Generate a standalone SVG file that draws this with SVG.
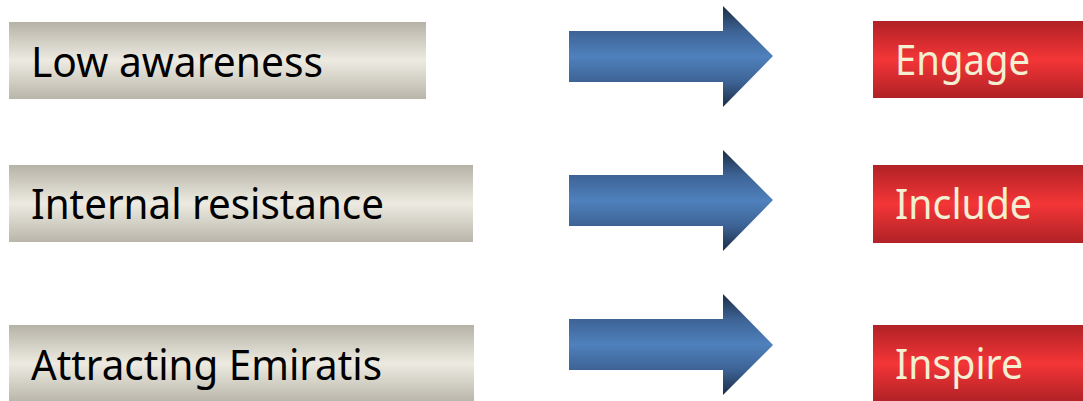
<svg xmlns="http://www.w3.org/2000/svg" width="1083" height="401" viewBox="0 0 1083 401">
  <defs>
    <linearGradient id="gGray" x1="0" y1="0" x2="0" y2="1">
      <stop offset="0" stop-color="#B6B2A8"/>
      <stop offset="0.5" stop-color="#EDEBE1"/>
      <stop offset="1" stop-color="#B9B5AB"/>
    </linearGradient>
    <linearGradient id="gRed" x1="0" y1="0" x2="0" y2="1">
      <stop offset="0" stop-color="#B02226"/>
      <stop offset="0.5" stop-color="#F43537"/>
      <stop offset="1" stop-color="#B02226"/>
    </linearGradient>
    <linearGradient id="gBlue" x1="0" y1="0" x2="0" y2="1">
      <stop offset="0" stop-color="#1C2D47"/>
      <stop offset="0.25" stop-color="#3D6395"/>
      <stop offset="0.5" stop-color="#4F81BD"/>
      <stop offset="0.75" stop-color="#3D6395"/>
      <stop offset="1" stop-color="#1C2D47"/>
    </linearGradient>
  </defs>
  <style>
    .gray { fill: url(#gGray); }
    .red { fill: url(#gRed); }
    .arrow { fill: url(#gBlue); }
    .lbl { font-family: "Noto Sans", "Open Sans", "Liberation Sans", sans-serif; font-size: 42px; fill: #000000; }
    .rlbl { font-family: "Noto Sans", "Open Sans", "Liberation Sans", sans-serif; font-size: 41px; fill: #F3EFD3; }
  </style>
  <rect width="1083" height="401" fill="#FFFFFF"/>

  <g id="node-low-awareness">
    <rect class="gray" x="9" y="22" width="417" height="77"/>
    <text class="lbl" x="31" y="77" textLength="292" lengthAdjust="spacingAndGlyphs">Low awareness</text>
  </g>
  <g id="node-internal-resistance">
    <rect class="gray" x="9" y="165" width="464" height="77"/>
    <text class="lbl" x="31" y="219" textLength="353" lengthAdjust="spacingAndGlyphs">Internal resistance</text>
  </g>
  <g id="node-attracting-emiratis">
    <rect class="gray" x="9" y="325" width="465" height="77"/>
    <text class="lbl" x="31" y="380" textLength="351" lengthAdjust="spacingAndGlyphs">Attracting Emiratis</text>
  </g>

  <g id="node-engage">
    <rect class="red" x="873" y="21" width="210" height="77"/>
    <text class="rlbl" x="895" y="75" textLength="135" lengthAdjust="spacingAndGlyphs">Engage</text>
  </g>
  <g id="node-include">
    <rect class="red" x="873" y="165" width="210" height="78"/>
    <text class="rlbl" x="895" y="219" textLength="137" lengthAdjust="spacingAndGlyphs">Include</text>
  </g>
  <g id="node-inspire">
    <rect class="red" x="873" y="325" width="210" height="77"/>
    <text class="rlbl" x="895" y="379" textLength="128" lengthAdjust="spacingAndGlyphs">Inspire</text>
  </g>

  <g id="connectors">
    <polygon class="arrow" points="569,31 723,31 723,6 773,56 723,107 723,82 569,82"/>
    <polygon class="arrow" points="569,175 723,175 723,150 773,200 723,251 723,226 569,226"/>
    <polygon class="arrow" points="569,319 723,319 723,294 773,345 723,395 723,370 569,370"/>
  </g>
</svg>
